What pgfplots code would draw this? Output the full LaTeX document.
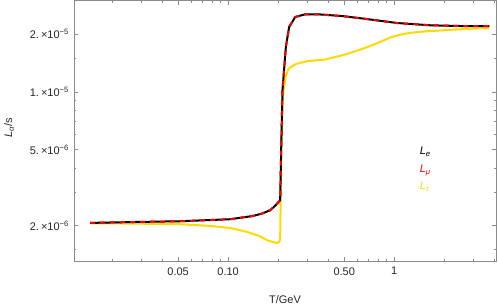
\documentclass[border=0pt]{standalone}
\usepackage{fontspec}
\setmainfont{Liberation Sans}
\usepackage{pgfplots}
\pgfplotsset{compat=1.18}
\definecolor{gold}{RGB}{255,217,0}
\definecolor{frameg}{gray}{0.55}
\newcommand{\sci}[2]{#1.\hspace{2pt}×10\textsuperscript{−#2}}
\begin{document}
\begin{tikzpicture}
\begin{axis}[
  scale only axis, width=422pt, height=261pt,
  xmode=log, ymode=log,
  xmin=0.0118, xmax=4.1, ymin=1.30e-6, ymax=3.01e-5,
  axis line style={frameg, line width=0.6pt},
  tick style={frameg, line width=0.5pt},
  major tick length=4.5pt, minor tick length=2.5pt,
  tick align=inside,
  xtick={0.05,0.1,0.5,1}, xticklabels={0.05,0.10,0.50,1},
  minor xtick={0.02,0.03,0.04,0.06,0.07,0.08,0.09,0.2,0.3,0.4,0.6,0.7,0.8,0.9,2,3,4},
  ytick={2e-6,5e-6,1e-5,2e-5},
  yticklabels={\sci{2}{6},\sci{5}{6},\sci{1}{5},\sci{2}{5}},
  minor ytick={1.5e-6,3e-6,4e-6,6e-6,7e-6,8e-6,9e-6,1.5e-5,3e-5},
  tick label style={font=\fontsize{11}{13}\selectfont, text=black!85},
  xticklabel style={yshift=-2.5pt},
  yticklabel style={xshift=-1.5pt},
  xlabel={T/GeV}, ylabel={\textit{L}\textsubscript{\textit{α}}/s},
  label style={font=\fontsize{11}{13}\selectfont, text=black!85},
  xlabel style={at={(axis description cs:0.5,-0.146)}, anchor=center},
  ylabel style={at={(axis description cs:-0.154,0.513)}, anchor=center},
  clip=true,
]
\coordinate (sw) at (rel axis cs:0,0);
\coordinate (ne) at (rel axis cs:1,1);
% L_tau
\addplot[gold, line width=2pt, line join=round] coordinates {
(0.01475,2.056e-6) (0.0257,2.048e-6) (0.0514,2.032e-6) (0.0780,1.990e-6)
(0.1028,1.943e-6) (0.1302,1.852e-6) (0.1550,1.760e-6) (0.1718,1.676e-6)
(0.1880,1.635e-6) (0.1970,1.622e-6) (0.2030,1.640e-6) (0.2057,1.700e-6)
(0.2075,3.0e-6) (0.2086,4.95e-6) (0.2120,8.0e-6) (0.2153,1.019e-5)
(0.2237,1.221e-5) (0.2300,1.310e-5) (0.2363,1.344e-5) (0.2594,1.405e-5)
(0.3034,1.450e-5) (0.3839,1.475e-5) (0.4400,1.520e-5) (0.5139,1.572e-5)
(0.6505,1.683e-5) (0.8236,1.823e-5) (0.946,1.925e-5) (1.087,1.990e-5)
(1.248,2.035e-5) (1.580,2.074e-5) (2.000,2.100e-5)
(2.498,2.124e-5) (3.735,2.160e-5)
};
% L_e
\addplot[black, line width=2pt, line join=round] coordinates {
(0.01475,2.064e-6) (0.0257,2.085e-6) (0.0514,2.106e-6) (0.1028,2.158e-6)
(0.1415,2.245e-6) (0.1600,2.310e-6) (0.1790,2.404e-6) (0.1930,2.550e-6)
(0.2057,2.713e-6) (0.2086,4.95e-6) (0.2124,1.019e-5) (0.2226,1.716e-5)
(0.2330,2.183e-5) (0.2533,2.462e-5) (0.2910,2.543e-5) (0.3486,2.543e-5)
(0.4842,2.491e-5) (0.6505,2.416e-5) (1.038,2.291e-5) (1.648,2.228e-5)
(2.498,2.209e-5) (3.735,2.209e-5)
};
% L_mu
\addplot[red, line width=2pt, line join=round, dash pattern=on 5pt off 5pt] coordinates {
(0.01475,2.064e-6) (0.0257,2.085e-6) (0.0514,2.106e-6) (0.1028,2.158e-6)
(0.1415,2.245e-6) (0.1600,2.310e-6) (0.1790,2.404e-6) (0.1930,2.550e-6)
(0.2057,2.713e-6) (0.2086,4.95e-6) (0.2124,1.019e-5) (0.2226,1.716e-5)
(0.2330,2.183e-5) (0.2533,2.462e-5) (0.2910,2.543e-5) (0.3486,2.543e-5)
(0.4842,2.491e-5) (0.6505,2.416e-5) (1.038,2.291e-5) (1.648,2.228e-5)
(2.498,2.209e-5) (3.735,2.209e-5)
};
\node[anchor=west, font=\fontsize{11}{13}\selectfont, text=black] at (rel axis cs:0.811,0.419) {\textit{L}\textsubscript{\textit{e}}};
\node[anchor=west, font=\fontsize{11}{13}\selectfont, text=red] at (rel axis cs:0.811,0.349) {\textit{L}\textsubscript{\textit{μ}}};
\node[anchor=west, font=\fontsize{11}{13}\selectfont, text=gold] at (rel axis cs:0.811,0.285) {\textit{L}\textsubscript{\textit{τ}}};
\end{axis}
\pgfresetboundingbox
\path[use as bounding box] ([shift={(-74pt,-44pt)}]sw) rectangle ([shift={(2pt,0.3pt)}]ne);
\end{tikzpicture}
\end{document}
